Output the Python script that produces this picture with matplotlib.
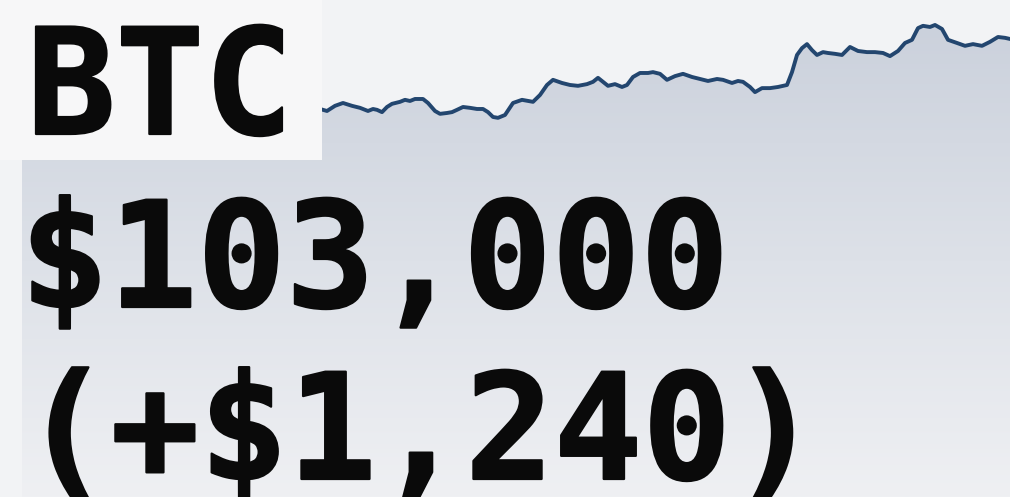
import numpy as np
import matplotlib
matplotlib.use("Agg")
import matplotlib.pyplot as plt
import matplotlib.patheffects as pe
from matplotlib.colors import LinearSegmentedColormap
from matplotlib.patches import Polygon, Rectangle

# price path (time in minutes since the visible start, price in USD)
t = [0, 7, 15, 23, 32, 40, 48, 53, 57, 62, 67, 72, 80, 85, 90, 95, 103, 108,
     115, 120, 127, 132, 137, 143, 150, 157, 163, 168, 173, 178, 185, 193,
     202, 213, 220, 227, 233, 242, 250, 258, 267, 273, 278, 283, 288, 295,
     302, 307, 313, 320, 328, 333, 340, 347, 355, 363, 372, 380, 388, 397,
     403, 412, 418, 423, 430, 435, 442, 450, 458, 467, 472, 477, 482, 487,
     492, 497, 503, 508, 515, 522, 530, 538, 547, 555, 563, 570, 578, 585,
     592, 598, 603, 610, 615, 622, 628, 637, 645, 653, 662, 670, 678, 685, 690]
price = [101775, 101740, 101830, 101880, 101830, 101795, 101740, 101775,
         101760, 101720, 101810, 101865, 101900, 101935, 101915, 101950,
         101950, 101880, 101740, 101690, 101705, 101720, 101760, 101810,
         101795, 101775, 101775, 101720, 101635, 101620, 101670, 101880,
         101935, 101900, 102020, 102195, 102285, 102230, 102195, 102180,
         102210, 102250, 102320, 102250, 102180, 102210, 102160, 102195,
         102335, 102405, 102405, 102420, 102390, 102285, 102350, 102390,
         102335, 102300, 102265, 102300, 102285, 102230, 102265, 102250,
         102160, 102070, 102140, 102140, 102160, 102195, 102420, 102720,
         102840, 102910, 102805, 102720, 102770, 102755, 102740, 102720,
         102860, 102790, 102770, 102770, 102755, 102700, 102790, 102930,
         102985, 103190, 103230, 103210, 103245, 103175, 102985, 102930,
         102880, 102910, 102880, 102950, 103035, 103020, 103000]

ticker = "BTC"
last_price = "$103,000"
change = "(+$1,240)"

W, H = 1010, 497
fig = plt.figure(figsize=(W / 100, H / 100), dpi=100)
fig.patch.set_facecolor("#f2f3f5")

ax = fig.add_axes([22 / W, 0, 1 - 22 / W, 1])
ax.set_facecolor("none")
x_lo, x_hi = -298, 690
y_lo, y_hi = 94985, 103682
ax.set_xlim(x_lo, x_hi)
ax.set_ylim(y_lo, y_hi)
ax.axis("off")

# gradient fill under the price line
grad = LinearSegmentedColormap.from_list("g", ["#eff0f3", "#dde1e8", "#cbd1dc"])
ramp = np.linspace(0, 1, 256).reshape(-1, 1)
img = ax.imshow(ramp, cmap=grad, origin="lower", aspect="auto",
                extent=(x_lo, x_hi, y_lo, max(price)), zorder=1)
verts = [(x_lo, y_lo), (x_lo, price[0])] + list(zip(t, price)) + [(x_hi, y_lo)]
clip = Polygon(verts, closed=True, transform=ax.transData, facecolor="none", edgecolor="none")
ax.add_patch(clip)
img.set_clip_path(clip)

ax.plot(t, price, color="#23466f", lw=2.8, solid_joinstyle="round", zorder=2)

# label box over the top-left of the chart
fig.add_artist(Rectangle((0, 1 - 160 / H), 322 / W, 160 / H, transform=fig.transFigure,
                         facecolor="#f7f7f8", edgecolor="none", zorder=3))

font = dict(family="DejaVu Sans Mono", weight="bold", size=106, color="#0a0a0a",
            va="baseline", ha="left", zorder=4,
            path_effects=[pe.withStroke(linewidth=1.6, foreground="#0a0a0a")])
fig.text(27 / W, 1 - 134 / H, ticker, **font)
fig.text(20 / W, 1 - 307 / H, last_price, **font)
fig.text(22 / W, 1 - 479 / H, change, **font)

fig.savefig("out.png", dpi=100, facecolor=fig.get_facecolor())
